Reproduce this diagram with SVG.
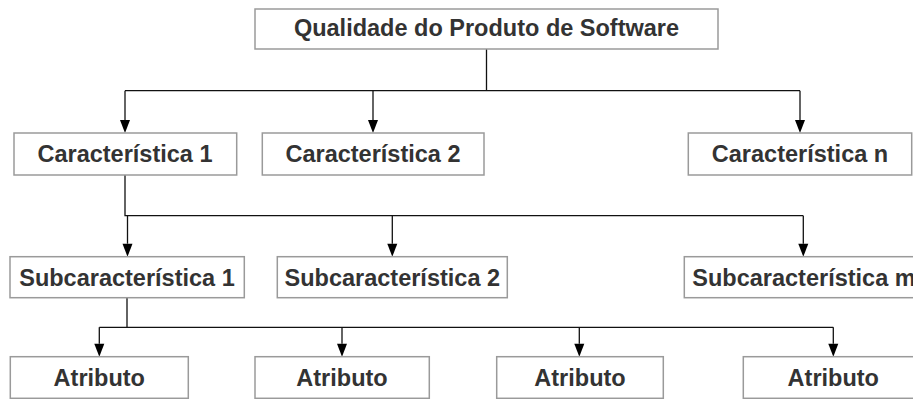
<svg xmlns="http://www.w3.org/2000/svg" width="913" height="399" viewBox="0 0 913 399">
<defs>
<style>
.box{fill:#fff;stroke:#9a9a9a;stroke-width:1.5}
.t{font-family:"Liberation Sans",Arial,sans-serif;font-weight:bold;font-size:23.5px;fill:#333;text-anchor:middle}
.ln{fill:none;stroke:#111;stroke-width:1.3}
.ah{fill:#000}
</style>
</defs>
<rect width="913" height="399" fill="#fff"/>
<g id="connectors">
<path class="ln" d="M486.5,49 V90.7 M125,90.7 H800"/>
<line class="ln" x1="125" y1="90.7" x2="125" y2="120"/>
<path class="ah" d="M120,120 L130,120 L125,133 Z"/>
<line class="ln" x1="373" y1="90.7" x2="373" y2="120"/>
<path class="ah" d="M368,120 L378,120 L373,133 Z"/>
<line class="ln" x1="800" y1="90.7" x2="800" y2="120"/>
<path class="ah" d="M795,120 L805,120 L800,133 Z"/>
<path class="ln" d="M125,175 V215.7 H803.3"/>
<line class="ln" x1="127.5" y1="215.7" x2="127.5" y2="243.7"/>
<path class="ah" d="M122.5,243.7 L132.5,243.7 L127.5,256.7 Z"/>
<line class="ln" x1="392.3" y1="215.7" x2="392.3" y2="243.7"/>
<path class="ah" d="M387.3,243.7 L397.3,243.7 L392.3,256.7 Z"/>
<line class="ln" x1="803.3" y1="215.7" x2="803.3" y2="243.7"/>
<path class="ah" d="M798.3,243.7 L808.3,243.7 L803.3,256.7 Z"/>
<path class="ln" d="M127,297.7 V327.3 M99.3,327.3 H833.3"/>
<line class="ln" x1="99.3" y1="327.3" x2="99.3" y2="343.7"/>
<path class="ah" d="M94.3,343.7 L104.3,343.7 L99.3,356.7 Z"/>
<line class="ln" x1="342" y1="327.3" x2="342" y2="343.7"/>
<path class="ah" d="M337,343.7 L347,343.7 L342,356.7 Z"/>
<line class="ln" x1="579.3" y1="327.3" x2="579.3" y2="343.7"/>
<path class="ah" d="M574.3,343.7 L584.3,343.7 L579.3,356.7 Z"/>
<line class="ln" x1="833.3" y1="327.3" x2="833.3" y2="343.7"/>
<path class="ah" d="M828.3,343.7 L838.3,343.7 L833.3,356.7 Z"/>
</g>
<g id="root"><rect class="box" x="255" y="9" width="463" height="40"/><text class="t" x="486.5" y="36">Qualidade do Produto de Software</text></g>
<g id="car1"><rect class="box" x="14" y="133" width="222.7" height="42"/><text class="t" x="125" y="162">Característica 1</text></g>
<g id="car2"><rect class="box" x="262.3" y="133" width="221.7" height="42"/><text class="t" x="373" y="162">Característica 2</text></g>
<g id="carn"><rect class="box" x="688.3" y="133" width="223.4" height="42"/><text class="t" x="800" y="162">Característica n</text></g>
<g id="sub1"><rect class="box" x="10" y="256.7" width="234.3" height="41"/><text class="t" x="127" y="285.5">Subcaracterística 1</text></g>
<g id="sub2"><rect class="box" x="277.3" y="256.7" width="230" height="41"/><text class="t" x="392.3" y="285.5">Subcaracterística 2</text></g>
<g id="subm"><rect class="box" x="684.3" y="256.7" width="245" height="41"/><text class="t" x="692.3" y="285.5" style="text-anchor:start">Subcaracterística m</text></g>
<g id="atr1"><rect class="box" x="10.3" y="356.7" width="178" height="41.6"/><text class="t" x="99.3" y="386">Atributo</text></g>
<g id="atr2"><rect class="box" x="255" y="356.7" width="174.3" height="41.6"/><text class="t" x="342" y="386">Atributo</text></g>
<g id="atr3"><rect class="box" x="496.7" y="356.7" width="166.6" height="41.6"/><text class="t" x="580" y="386">Atributo</text></g>
<g id="atr4"><rect class="box" x="743.3" y="356.7" width="180" height="41.6"/><text class="t" x="833.3" y="386">Atributo</text></g>
</svg>
